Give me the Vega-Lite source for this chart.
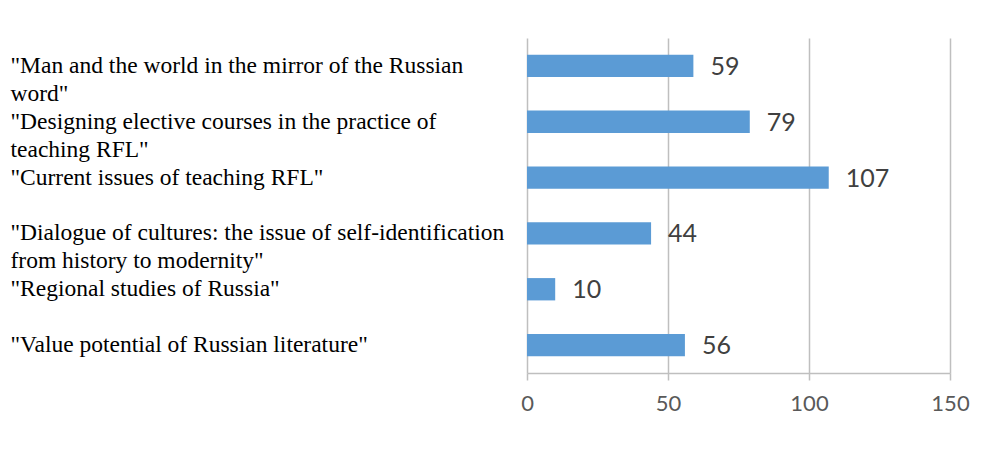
{
  "$schema": "https://vega.github.io/schema/vega-lite/v6.json",
  "autosize": "none",
  "width": 423,
  "height": 335,
  "padding": {"left": 527, "top": 38, "right": 39, "bottom": 78},
  "background": "white",
  "config": {"view": {"stroke": null}},
  "data": {
    "values": [
      {"topic": "\"Man and the world in the mirror of the Russian|word\"", "count": 59},
      {"topic": "\"Designing elective courses in the practice of|teaching RFL\"", "count": 79},
      {"topic": "\"Current issues of teaching RFL\"", "count": 107},
      {"topic": "\"Dialogue of cultures: the issue of self-identification|from history to modernity\"", "count": 44},
      {"topic": "\"Regional studies of Russia\"", "count": 10},
      {"topic": "\"Value potential of Russian literature\"", "count": 56}
    ]
  },
  "encoding": {
    "y": {
      "field": "topic",
      "type": "nominal",
      "sort": null,
      "scale": {"paddingInner": 0.6, "paddingOuter": 0.3},
      "axis": {
        "title": null,
        "domain": false,
        "ticks": false,
        "grid": false,
        "labelExpr": "split(datum.label, '|')",
        "labelAlign": "left",
        "labelBaseline": "top",
        "labelOffset": -12,
        "labelPadding": 517,
        "labelLimit": 530,
        "labelFont": "Liberation Serif",
        "labelFontSize": 23.5,
        "labelLineHeight": 28,
        "labelColor": "#000000"
      }
    },
    "x": {
      "field": "count",
      "type": "quantitative",
      "scale": {"domain": [0, 150], "nice": false},
      "axis": {
        "title": null,
        "values": [0, 50, 100, 150],
        "grid": true,
        "gridColor": "#bfbfbf",
        "gridWidth": 1.5,
        "domainColor": "#bfbfbf",
        "domainWidth": 1.5,
        "tickColor": "#bfbfbf",
        "tickWidth": 1.5,
        "tickSize": 7,
        "labelPadding": 13,
        "labelFont": "Lato",
        "labelFontSize": 22,
        "labelColor": "#595959",
        "labelFlush": false
      }
    }
  },
  "layer": [
    {"mark": {"type": "bar", "color": "#5b9bd5"}},
    {
      "mark": {"type": "text", "align": "left", "baseline": "middle", "dx": 17, "dy": 1, "font": "Lato", "fontSize": 25, "color": "#404040"},
      "encoding": {"text": {"field": "count", "type": "quantitative"}}
    }
  ]
}
